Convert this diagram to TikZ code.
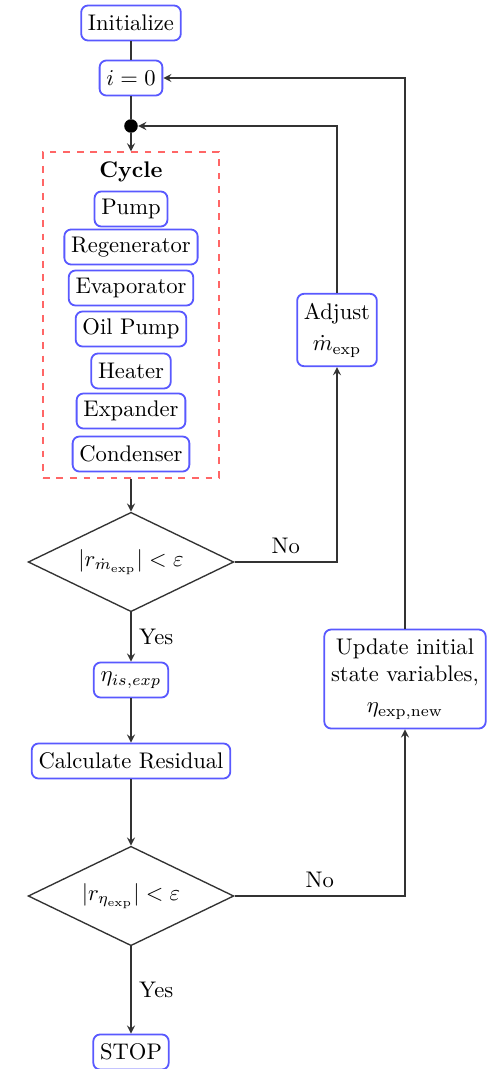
\documentclass[tikz,border=0pt]{standalone}
\usepackage{amsmath}
\usetikzlibrary{shapes.geometric, arrows, positioning}

\begin{document}
\begin{tikzpicture}[x=0.4425pt, y=-0.4425pt,
    blk/.style={draw=blue!65, line width=0.8pt, rounded corners=3pt, inner sep=3pt, minimum height=15.5pt, fill=white},
    dec/.style={diamond, draw=black!80, line width=0.6pt, inner sep=0pt, shape aspect=2.05, minimum width=91pt, minimum height=44pt},
    line/.style={draw=black!80, line width=0.6pt},
    arr/.style={line, ->, >=stealth}]
        \useasboundingbox (0,0) rectangle (492,1069);

        % Initialisation
        \node[blk] (init) at (131,23) {Initialize};
        \node[blk] (izero) at (131,78) {$i=0$};
        \node[circle, fill=black, inner sep=0pt, minimum size=6pt] (join) at (131,126) {};

        % Cycle
        \node[draw=red!60, dashed, line width=0.8pt, minimum width=78pt, minimum height=144pt] (cycle) at (131,315) {};
        \node[font=\bfseries] (cyctitle) at (131,172) {Cycle};
        \node[blk] (pump) at (131,209) {Pump};
        \node[blk] (regen) at (131,247) {Regenerator};
        \node[blk] (evap) at (131,288) {Evaporator};
        \node[blk] (oilpump) at (131,329) {Oil Pump};
        \node[blk] (heater) at (131,371) {Heater};
        \node[blk] (expander) at (131,411) {Expander};
        \node[blk] (condenser) at (131,454) {Condenser};

        % Tests
        \node[dec] (dec1) at (131,562) {$|r_{\dot m_{\mathrm{exp}}}| < \varepsilon$};
        \node[blk] (etais) at (131,680) {$\eta_{is,exp}$};
        \node[blk] (calc) at (131,761) {Calculate Residual};
        \node[dec] (dec2) at (131,896) {$|r_{\eta_{\mathrm{exp}}}| < \varepsilon$};
        \node[blk] (stop) at (131,1052) {STOP};

        % Boucles
        \node[blk, align=center, inner ysep=4pt] (adjust) at (337,330) {Adjust\\[2pt]$\dot m_{\mathrm{exp}}$};
        \node[blk, align=center, inner ysep=4pt] (update) at (405,679) {Update initial\\state variables,\\[2pt]$\eta_{\mathrm{exp,new}}$};

        % Fleches
        \draw[line] (init) -- (izero);
        \draw[line] (izero) -- (join);
        \draw[arr] (join) -- (cycle);
        \draw[arr] (cycle) -- (dec1);
        \draw[arr] (dec1) -- node[right] {Yes} (etais);
        \draw[arr] (etais) -- (calc);
        \draw[arr] (calc) -- (dec2);
        \draw[arr] (dec2) -- node[right] {Yes} (stop);
        \draw[arr] (dec1.east) -| node[pos=0.25, above] {No} (adjust.south);
        \draw[arr] (adjust.north) |- (join);
        \draw[arr] (dec2.east) -| node[pos=0.25, above] {No} (update.south);
        \draw[arr] (update.north) |- (izero.east);
    \end{tikzpicture}
\end{document}
